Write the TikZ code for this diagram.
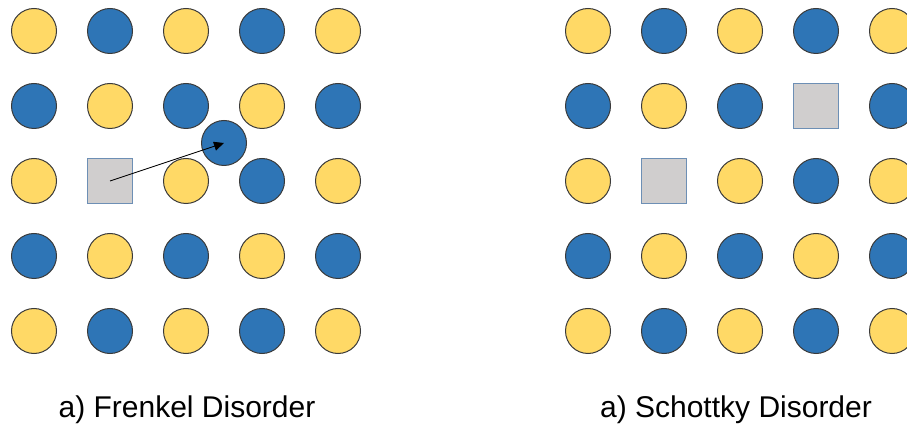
\documentclass[tikz,border=0pt]{standalone}
\usepackage{fontspec}
\setmainfont{Liberation Sans}
\usetikzlibrary{arrows.meta}

\definecolor{ionY}{HTML}{FFD966}
\definecolor{ionB}{HTML}{2E75B6}
\definecolor{ionEdge}{HTML}{3A3A3A}
\definecolor{vacFill}{HTML}{D0CECE}
\definecolor{vacEdge}{HTML}{6D8FB5}

\tikzset{
  site0/.style={circle, draw=ionEdge, line width=1pt, fill=ionY, minimum size=45pt, inner sep=0pt},
  site1/.style={circle, draw=ionEdge, line width=1pt, fill=ionB, minimum size=45pt, inner sep=0pt},
  site2/.style={rectangle, draw=vacEdge, line width=1pt, fill=vacFill, minimum size=45pt, inner sep=0pt},
  hop/.style={draw=black, line width=0.8pt, -{Triangle[length=10pt, width=9pt]}},
  caption/.style={anchor=base, inner sep=0pt, font=\fontsize{30}{36}\selectfont}
}

\begin{document}
\begin{tikzpicture}[x=1pt, y=-1pt]
\useasboundingbox (0,0) rectangle (907,427);

% Frenkel lattice: one cation moved to an interstitial site
\foreach \r/\y in {1/31,2/106,3/181,4/256,5/331}{
  \foreach \c/\x in {1/34,2/110,3/186,4/262,5/338}{
    \pgfmathtruncatemacro\kind{mod(\r+\c,2)}
    \ifnum\r\c=32 \def\kind{2}\fi
    \node[site\kind] (L-\r-\c) at (\x,\y) {};
  }
}
\node[site1] (I) at (224,143) {};
\draw[hop] (L-3-2.center) -- (I.center);

% Schottky lattice: a pair of vacancies
\foreach \r/\y in {1/31,2/106,3/181,4/256,5/331}{
  \foreach \c/\x in {1/588,2/664,3/740,4/816,5/892}{
    \pgfmathtruncatemacro\kind{mod(\r+\c,2)}
    \ifnum\r\c=24 \def\kind{2}\fi
    \ifnum\r\c=32 \def\kind{2}\fi
    \node[site\kind] (R-\r-\c) at (\x,\y) {};
  }
}

\node[caption] (capL) at (187,417) {a) Frenkel Disorder};
\node[caption] (capR) at (736,417) {a) Schottky Disorder};
\end{tikzpicture}
\end{document}
